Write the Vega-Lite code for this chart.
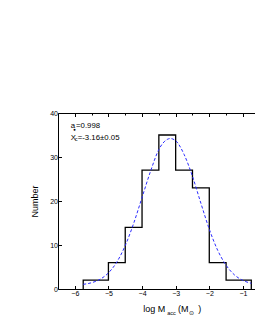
{
  "$schema": "https://vega.github.io/schema/vega-lite/v6.json",
  "autosize": "none",
  "width": 197,
  "height": 176,
  "padding": {"left": 58, "top": 113, "right": 0, "bottom": 41},
  "background": "white",
  "config": {
    "view": {"stroke": null},
    "font": "Liberation Sans",
    "axis": {"domainColor": "black", "tickColor": "black", "labelColor": "black", "titleColor": "black", "grid": false, "labelFont": "Liberation Sans", "titleFont": "Liberation Sans", "labelFontSize": 7, "titleFontWeight": "normal", "domainWidth": 1, "tickWidth": 1}
  },
  "resolve": {"axis": {"x": "independent"}},
  "layer": [
    {
      "data": {"values": [
        {"x": -5.75, "count": 0},
        {"x": -5.75, "count": 2},
        {"x": -5.0, "count": 6},
        {"x": -4.5, "count": 14},
        {"x": -4.0, "count": 27},
        {"x": -3.5, "count": 35},
        {"x": -3.0, "count": 27},
        {"x": -2.5, "count": 23},
        {"x": -2.0, "count": 6},
        {"x": -1.5, "count": 2},
        {"x": -0.75, "count": 0}
      ]},
      "mark": {"type": "line", "interpolate": "step-after", "color": "black", "strokeWidth": 1.3},
      "encoding": {
        "x": {"field": "x", "type": "quantitative", "scale": {"domain": [-6.5, -0.64], "nice": false, "zero": false},
          "axis": {"orient": "bottom", "title": null, "format": "d", "values": [-6, -5.5, -5, -4.5, -4, -3.5, -3, -2.5, -2, -1.5, -1],
            "tickSize": {"expr": "datum.value % 1 === 0 ? -3.5 : -2"}, "labelExpr": "datum.value % 1 === 0 ? datum.label : ''", "labelPadding": 4, "labelFlush": false, "labelOverlap": false}},
        "y": {"field": "count", "type": "quantitative", "scale": {"domain": [0, 40], "nice": false},
          "axis": {"title": "Number", "titleFontSize": 9, "titlePadding": 10, "values": [0, 2.5, 5, 7.5, 10, 12.5, 15, 17.5, 20, 22.5, 25, 27.5, 30, 32.5, 35, 37.5, 40],
            "tickSize": {"expr": "datum.value % 5 === 0 ? -3.5 : -2"}, "labelExpr": "datum.value % 5 === 0 ? datum.label : ''", "labelPadding": 4, "labelOverlap": false, "labelFlush": false}}
      }
    },
    {
      "data": {"values": [
        {"x": -5.75, "y": 1.06}, {"x": -5.5, "y": 1.43}, {"x": -5.25, "y": 2.2}, {"x": -5.0, "y": 3.66},
        {"x": -4.75, "y": 6.13}, {"x": -4.5, "y": 9.87}, {"x": -4.25, "y": 14.9}, {"x": -4.0, "y": 20.8},
        {"x": -3.75, "y": 26.7}, {"x": -3.5, "y": 31.7}, {"x": -3.25, "y": 34.0}, {"x": -3.16, "y": 34.2},
        {"x": -3.0, "y": 33.7}, {"x": -2.75, "y": 30.6}, {"x": -2.5, "y": 25.6}, {"x": -2.25, "y": 19.5},
        {"x": -2.0, "y": 13.6}, {"x": -1.75, "y": 8.8}, {"x": -1.5, "y": 5.4}, {"x": -1.25, "y": 3.2},
        {"x": -1.0, "y": 1.95}, {"x": -0.75, "y": 1.3}
      ]},
      "mark": {"type": "line", "interpolate": "monotone", "color": "#2b2bff", "strokeWidth": 1, "strokeDash": [3, 2]},
      "encoding": {
        "x": {"field": "x", "type": "quantitative", "scale": {"domain": [-6.5, -0.64], "nice": false, "zero": false},
          "axis": {"orient": "top", "title": null, "labels": false, "values": [-6, -5.5, -5, -4.5, -4, -3.5, -3, -2.5, -2, -1.5, -1],
            "tickSize": {"expr": "datum.value % 1 === 0 ? -3.5 : -2"}}},
        "y": {"field": "y", "type": "quantitative"}
      }
    },
    {
      "data": {"values": [
        {"t": "a", "x": -6.122, "y": 36.68},
        {"t": "=0.998", "x": -5.964, "y": 36.68},
        {"t": "X", "x": -6.122, "y": 33.95},
        {"t": "=-3.16±0.05", "x": -5.914, "y": 33.95}
      ]},
      "mark": {"type": "text", "align": "left", "baseline": "alphabetic", "fontSize": 7.8, "color": "black", "clip": false},
      "encoding": {
        "x": {"field": "x", "type": "quantitative", "axis": null},
        "y": {"field": "y", "type": "quantitative"},
        "text": {"field": "t"}
      }
    },
    {
      "data": {"values": [
        {"t": "log M", "x": -3.962, "y": -5.3},
        {"t": "(M", "x": -2.93, "y": -5.3},
        {"t": ")", "x": -2.33, "y": -5.3}
      ]},
      "mark": {"type": "text", "align": "left", "baseline": "alphabetic", "fontSize": 9, "color": "black", "clip": false},
      "encoding": {
        "x": {"field": "x", "type": "quantitative", "axis": null},
        "y": {"field": "y", "type": "quantitative"},
        "text": {"field": "t"}
      }
    },
    {
      "data": {"values": [
        {"t": "c", "x": -6.003, "y": 33.57},
        {"t": "acc", "x": -3.25, "y": -5.86},
        {"t": "⊙", "x": -2.6, "y": -5.86}
      ]},
      "mark": {"type": "text", "align": "left", "baseline": "alphabetic", "fontSize": 5.5, "color": "black", "clip": false},
      "encoding": {
        "x": {"field": "x", "type": "quantitative", "axis": null},
        "y": {"field": "y", "type": "quantitative"},
        "text": {"field": "t"}
      }
    },
    {
      "data": {"values": [{"t": "●", "x": -6.045, "y": 36.23}]},
      "mark": {"type": "text", "align": "left", "baseline": "middle", "fontSize": 4.5, "color": "black"},
      "encoding": {
        "x": {"field": "x", "type": "quantitative", "axis": null},
        "y": {"field": "y", "type": "quantitative"},
        "text": {"field": "t"}
      }
    }
  ]
}
